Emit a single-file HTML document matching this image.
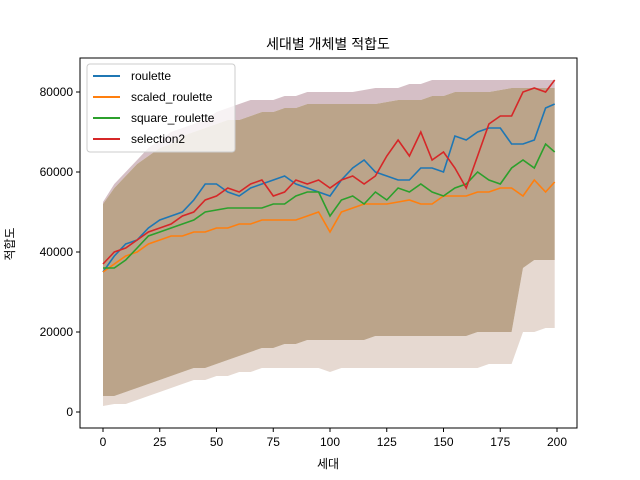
<!DOCTYPE html>
<html><head><meta charset="utf-8"><style>
body{margin:0;background:#fff;}
svg{display:block;font-family:"Liberation Sans","Noto Sans CJK KR",sans-serif;}
</style></head><body>
<svg id="chart" width="640" height="480" viewBox="0 0 640 480" xmlns="http://www.w3.org/2000/svg">
<rect width="640" height="480" fill="#fff"/>
<g id="bands"></g>
<g id="lines"></g>
<rect x="80" y="58" width="497" height="370" fill="none" stroke="#000" stroke-width="1"/>
<g id="xticks"></g>
<g id="yticks"></g>
<text x="328" y="49" text-anchor="middle" font-size="14">세대별 개체별 적합도</text>
<text x="328" y="468" text-anchor="middle" font-size="12">세대</text>
<text x="14" y="244" text-anchor="middle" font-size="12" transform="rotate(-90 14 244)">적합도</text>
<g>
<rect x="87" y="64" width="148" height="88" rx="3" fill="#fff" fill-opacity="0.8" stroke="#ccc"/>
<g><line x1="93" y1="76" x2="120" y2="76" stroke="#1f77b4" stroke-width="2"/><text x="131" y="80" font-size="12">roulette</text></g>
<g><line x1="93" y1="97" x2="120" y2="97" stroke="#ff7f0e" stroke-width="2"/><text x="131" y="101" font-size="12">scaled_roulette</text></g>
<g><line x1="93" y1="118" x2="120" y2="118" stroke="#2ca02c" stroke-width="2"/><text x="131" y="122" font-size="12">square_roulette</text></g>
<g><line x1="93" y1="139" x2="120" y2="139" stroke="#d62728" stroke-width="2"/><text x="131" y="143" font-size="12">selection2</text></g>
</g>
</svg>
<script>
const gens = [0,5,10,15,20,25,30,35,40,45,50,55,60,65,70,75,80,85,90,95,100,105,110,115,120,125,130,135,140,145,150,155,160,165,170,175,180,185,190,195,199];
const roulette = [35,39,42,43,46,48,49,50,53,57,57,55,54,56,57,58,59,57,56,55,54,58,61,63,60,59,58,58,61,61,60,69,68,70,71,71,67,67,68,76,77];
const selection2 = [37,40,41,43,45,46,47,49,50,53,54,56,55,57,58,54,55,58,57,58,56,58,59,57,59,64,68,64,70,63,65,61,56,64,72,74,74,80,81,80,83];
const squareRoulette = [36,36,38,41,44,45,46,47,48,50,50.5,51,51,51,51,52,52,54,55,55,49,53,54,52,55,53,56,55,57,55,54,56,57,60,58,57,61,63,61,67,65];
const scaledRoulette = [35,37,39,40,42,43,44,44,45,45,46,46,47,47,48,48,48,48,49,50,45,50,51,52,52,52,52.5,53,52,52,54,54,54,55,55,56,56,54,58,55,57.5];
const bandMax = [52.5,57,60,63,66,68,70,71,72,73,75,76,77,78,78,78,79,79,80,80,80,80,80,80.5,81,81,81,82,82,83,83,83,83,83,83,83,83,83,83,83,83];
const bandHi = [52,56,59,62,64,66,67,69,70,71,72,73,73,74,75,75,76,76,77,77,77,77,77,77,77,77.5,78,78,78,79,79,80,80,80,80,80.5,81,81,81,81,81];
const bandLo = [4,4,5,6,7,8,9,10,11,11,12,13,14,15,16,16,17,17,18,18,18,18,18,18,19,19,19,19,19,19,19,19,19,20,20,20,20,36,38,38,38];
const bandMin = [1.5,2,2,3,4,5,6,7,8,8,9,9,10,10,11,11,11,11,11,11,10,11,11,11,11,11,11,11,11,11,11,11,11,11,12,12,12,20,20,21,21];
const xTicks = [0,25,50,75,100,125,150,175,200];
const yTicks = [0,20000,40000,60000,80000];

const NS = "http://www.w3.org/2000/svg";
const X = g => 103 + g * 2.27;
const Y = v => 412 - v * 0.004;
const K = v => Y(v * 1000);

function areaPath(lo, hi) {
  let d = "";
  gens.forEach((g, i) => { d += (i ? "L" : "M") + X(g).toFixed(1) + "," + K(hi[i]).toFixed(1); });
  for (let i = gens.length - 1; i >= 0; i--) d += "L" + X(gens[i]).toFixed(1) + "," + K(lo[i]).toFixed(1);
  return d + "Z";
}
const bands = document.getElementById("bands");
const b1 = document.createElementNS(NS, "path");
b1.setAttribute("d", areaPath(bandMin, bandLo));
b1.setAttribute("fill", "#e6d9d1");


bands.appendChild(b1);
const b2 = document.createElementNS(NS, "path");
b2.setAttribute("d", areaPath(bandHi, bandMax));
b2.setAttribute("fill", "#d5bfc6");


bands.appendChild(b2);
const b3 = document.createElementNS(NS, "path");
b3.setAttribute("d", areaPath(bandLo, bandHi));
b3.setAttribute("fill", "#bba48a");


bands.appendChild(b3);

const lines = document.getElementById("lines");
[[roulette, "#1f77b4", "line-roulette"], [scaledRoulette, "#ff7f0e", "line-scaled-roulette"], [squareRoulette, "#2ca02c", "line-square-roulette"], [selection2, "#d62728", "line-selection2"]].forEach(s => {
  const p = document.createElementNS(NS, "polyline");
  p.setAttribute("points", gens.map((g, i) => X(g).toFixed(1) + "," + K(s[0][i]).toFixed(1)).join(" "));
  p.setAttribute("fill", "none");
  p.setAttribute("stroke", s[1]);
  p.setAttribute("stroke-width", "1.6");
  
  
  lines.appendChild(p);
});

const xt = document.getElementById("xticks");
xTicks.forEach(t => {
  const l = document.createElementNS(NS, "line");
  l.setAttribute("x1", X(t)); l.setAttribute("x2", X(t));
  l.setAttribute("y1", 428); l.setAttribute("y2", 432);
  l.setAttribute("stroke", "#000");
  
  
  xt.appendChild(l);
  const tx = document.createElementNS(NS, "text");
  tx.setAttribute("x", X(t)); tx.setAttribute("y", 446);
  tx.setAttribute("text-anchor", "middle"); tx.setAttribute("font-size", "12");
  tx.textContent = t;
  
  
  xt.appendChild(tx);
});
const yt = document.getElementById("yticks");
yTicks.forEach(t => {
  const l = document.createElementNS(NS, "line");
  l.setAttribute("x1", 76); l.setAttribute("x2", 80);
  l.setAttribute("y1", Y(t)); l.setAttribute("y2", Y(t));
  l.setAttribute("stroke", "#000");
  
  
  yt.appendChild(l);
  const tx = document.createElementNS(NS, "text");
  tx.setAttribute("x", 73); tx.setAttribute("y", Y(t) + 4);
  tx.setAttribute("text-anchor", "end"); tx.setAttribute("font-size", "12");
  tx.textContent = t;
  
  
  yt.appendChild(tx);
});
</script>
</body></html>
